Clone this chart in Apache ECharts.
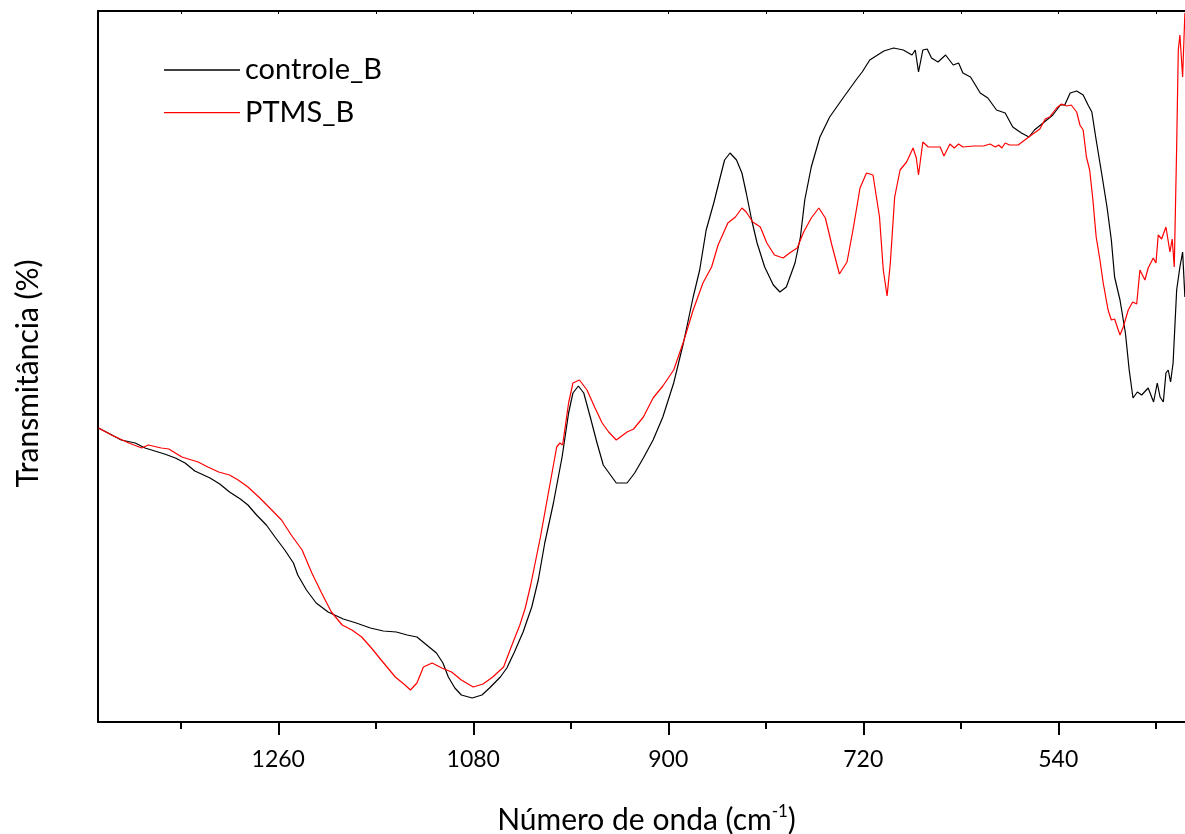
<!DOCTYPE html>
<html>
<head>
<meta charset="utf-8">
<script src="https://cdn.jsdelivr.net/npm/echarts@6/dist/echarts.min.js"></script>
<style>
  html, body { margin: 0; padding: 0; background: #fff; }
  #chart { width: 1185px; height: 834px; }
</style>
</head>
<body>
<div id="chart"></div>
<script>
// número de onda (cm-1) e transmitância
var controleX = [1426,1417,1405,1392,1383,1374,1365,1355,1346,1337,1323,1314,1305,1295,1288,1280,1271,1263,1254,1246,
  1242,1234,1225,1214,1200,1188,1175,1163,1151,1141,1132,1123,1114,1108,1103,1097,1091,1081,1072,1065,
  1055,1049,1042,1034,1026,1020,1014,1006,998,992,988,983,978,972,966,960,952,948,938,931,
  923,914,905,895,886,877,871,865,858,852,848,843,837,832,828,823,818,811,803,797,
  791,783,778,774,768,760,751,738,726,721,714,701,692,683,675,672,669,665,661,657,
  651,644,637,632,628,621,612,605,597,589,582,574,567,562,554,545,538,534,529,523,
  517,512,509,505,500,495,491,488,483,478,474.5,471,467,463,457,452,448.6,446,443,440.6,
  438.5,436.3,434,430.7,427.7,425.2,423.1];
var controleY = [29.4,28.9,28.2,27.9,27.4,27.1,26.8,26.4,25.9,25.1,24.4,23.8,23.0,22.3,21.7,20.7,19.7,18.5,17.2,15.9,
  14.7,13.2,11.9,11.0,10.3,9.9,9.4,9.1,9.0,8.7,8.5,7.7,6.9,5.9,4.5,3.4,2.7,2.4,2.7,3.4,
  4.5,5.4,7.0,9.0,11.5,14.2,17.9,21.9,26.5,30.9,32.9,33.6,32.9,30.5,28.0,25.7,24.5,23.9,23.9,24.9,
  26.4,28.2,30.5,33.9,37.9,42.5,45.2,49.2,51.9,54.5,56.2,56.9,56.2,54.9,52.9,50.2,47.9,45.5,43.7,43.0,
  43.5,45.9,48.5,52.2,55.5,58.5,60.5,62.5,64.3,65.0,66.2,67.1,67.4,67.2,66.7,67.2,65.0,67.2,67.3,66.4,
  66.0,66.7,65.7,65.9,64.9,64.5,62.9,62.4,61.2,60.9,59.5,58.9,58.5,59.2,59.9,60.7,61.7,61.7,62.9,63.1,
  62.7,61.6,61.0,58.2,54.9,51.5,48.2,44.5,42.2,38.9,35.2,32.4,33.0,32.7,33.4,32.0,33.9,32.5,32.0,34.9,
  35.2,34.0,35.9,43.2,45.5,47.0,42.5];

var ptmsX = [1426,1414,1398,1386,1380,1368,1361,1349,1340,1334,1325,1315,1305,1297,1288,1277,1266,1257,1248,1238,
  1229,1220,1211,1201,1192,1183,1174,1165,1152,1143,1138,1132,1126,1118,1109,1100,1091,1080,1071,1062,
  1052,1045,1037,1032,1027,1018,1009,1003,1000,997.5,992,988,982,975,968,961,955,948,938,932,
  923,914,905,895,886,877,868,860,854,845,838,832,828,822,815,809,802,794,788,781,
  775,768,761,755,749,742,735,729,723,717,711,705,701.5,698,695,691,686,680,674,671,
  669,665,660,649,645.5,640,636,632,628,618,609,603,598,595,592,589,585,577,566,557,
  552,548,541.5,537,532,528,523,520,517,514,511,508,505,501.5,498.5,494,491,488,483,480,
  475.4,471.3,467.6,464.6,460,457,452.3,449.8,447.7,444.6,440.6,436.9,434.8,432.9,430.7,429.2,427.7,425.2,423.1];
var ptmsY = [29.4,28.7,27.9,27.4,27.7,27.4,27.3,26.5,26.2,26.0,25.5,25.0,24.7,24.2,23.5,22.4,21.2,20.2,18.7,17.2,
  14.9,12.9,11.0,9.7,9.2,8.5,7.4,6.2,4.5,3.7,3.2,3.9,5.5,5.9,5.4,5.0,4.2,3.5,3.8,4.5,
  5.5,7.5,9.7,11.4,13.7,18.5,23.9,27.5,27.9,27.7,31.9,33.9,34.2,33.2,31.5,29.9,29.0,28.2,29.0,29.3,
  30.5,32.4,33.6,35.2,38.0,41.2,43.9,45.5,47.7,49.9,50.5,51.4,51.0,50.0,49.5,47.9,46.7,46.4,46.9,47.4,
  49.0,50.4,51.4,50.4,47.7,44.8,46.0,49.5,53.4,54.9,54.7,50.5,45.2,42.6,45.9,52.5,55.2,56.0,57.4,56.4,
  54.7,58.0,57.5,57.5,56.6,57.8,57.4,57.8,57.5,57.6,57.6,57.8,57.5,57.7,57.4,57.9,57.7,57.7,58.6,59.3,
  60.3,60.5,61.4,61.8,61.6,61.7,61.0,59.7,59.2,56.5,55.2,52.2,48.5,46.2,43.9,41.2,40.2,40.3,38.7,39.5,
  41.2,42.0,41.8,45.2,44.2,45.4,46.4,45.9,48.7,48.3,49.5,47.0,48.3,45.5,57.5,67.2,68.7,64.5,70.9];

var majorTicks = [1260, 1080, 900, 720, 540];
var minorTicks = [1350, 1170, 990, 810, 630, 450];

function pares(xs, ys) {
  var out = [];
  for (var i = 0; i < xs.length; i++) out.push([xs[i], ys[i]]);
  return out;
}

var fonte = 'Lato, Carlito, sans-serif';
var xMin = 423, xMax = 1426.4;

var myChart = echarts.init(document.getElementById('chart'));
myChart.setOption({
  animation: false,
  backgroundColor: '#fff',
  grid: { left: 98, right: 0, top: 11, bottom: 112, outerBoundsMode: 'none' },
  legend: {
    orient: 'vertical',
    left: 164,
    top: 55,
    padding: 0,
    icon: 'rect',
    itemWidth: 76,
    itemHeight: 1.3,
    itemGap: 12.7,
    textStyle: { fontFamily: fonte, fontSize: 29, color: '#000', lineHeight: 30 },
    data: ['controle_B', 'PTMS_B']
  },
  xAxis: [
    {
      type: 'value', inverse: true, min: xMin, max: xMax, position: 'bottom',
      axisLine: { lineStyle: { color: '#000', width: 2 } },
      axisTick: { customValues: majorTicks, length: 13, lineStyle: { color: '#000', width: 2 } },
      axisLabel: {
        customValues: majorTicks, fontFamily: fonte, fontSize: 23, color: '#000', margin: 26,
        formatter: function (v) { return String(v); }
      },
      splitLine: { show: false },
      name: '{a|Número de onda (cm}{b|-1}{a|)}',
      nameLocation: 'middle',
      nameGap: 81,
      nameTextStyle: {
        padding: [0, 0, 0, 10],
        rich: {
          a: { fontFamily: fonte, fontSize: 30, color: '#000', lineHeight: 34 },
          b: { fontFamily: fonte, fontSize: 17, color: '#000', lineHeight: 16, verticalAlign: 'top' }
        }
      }
    },
    {
      type: 'value', inverse: true, min: xMin, max: xMax, position: 'bottom',
      axisLine: { show: false },
      axisTick: { customValues: minorTicks, length: 7, lineStyle: { color: '#000', width: 2 } },
      axisLabel: { show: false },
      splitLine: { show: false }
    },
    {
      type: 'value', inverse: true, min: xMin, max: xMax, position: 'top',
      axisLine: { lineStyle: { color: '#000', width: 2 } },
      axisTick: { inside: true, customValues: majorTicks.concat(minorTicks), length: 3, lineStyle: { color: '#000', width: 1 } },
      axisLabel: { show: false },
      splitLine: { show: false }
    }
  ],
  yAxis: {
    type: 'value', min: 0, max: 71.1,
    axisLine: { show: true, lineStyle: { color: '#000', width: 2 } },
    axisTick: { show: false },
    axisLabel: { show: false },
    splitLine: { show: false },
    name: 'Transmitância (%)',
    nameLocation: 'middle',
    nameRotate: 90,
    nameGap: 55,
    nameTextStyle: { fontFamily: fonte, fontSize: 30, color: '#000', padding: [0, 14, 0, 0] }
  },
  series: [
    {
      name: 'controle_B', type: 'line', xAxisIndex: 0,
      showSymbol: false, symbol: 'none', color: '#000',
      lineStyle: { width: 1.2, color: '#000' },
      data: pares(controleX, controleY)
    },
    {
      name: 'PTMS_B', type: 'line', xAxisIndex: 0,
      showSymbol: false, symbol: 'none', color: '#ff0000',
      lineStyle: { width: 1.2, color: '#ff0000' },
      data: pares(ptmsX, ptmsY)
    }
  ]
});
</script>
</body>
</html>
